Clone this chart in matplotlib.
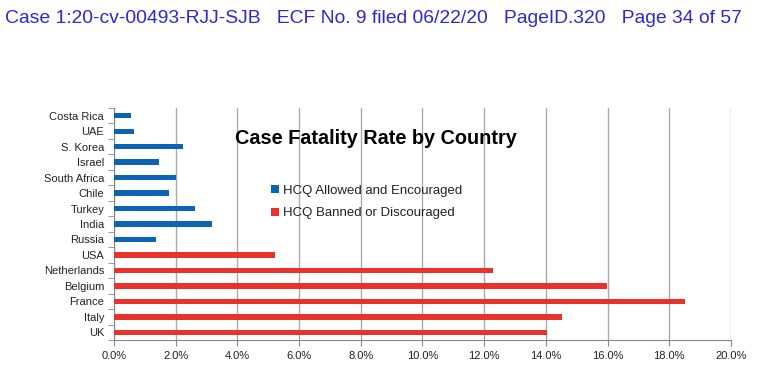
import matplotlib
matplotlib.use('Agg')
import numpy as np
from matplotlib import pyplot as plt
from matplotlib.ticker import FuncFormatter, FixedLocator

plt.rcParams['font.family'] = ['Liberation Sans', 'DejaVu Sans']

# data (top to bottom as drawn)
countries = ['Costa Rica', 'UAE', 'S. Korea', 'Israel', 'South Africa', 'Chile',
             'Turkey', 'India', 'Russia', 'USA', 'Netherlands', 'Belgium',
             'France', 'Italy', 'UK']
cfr = [0.54, 0.65, 2.23, 1.45, 2.01, 1.79, 2.63, 3.19, 1.36,
       5.22, 12.27, 15.97, 18.51, 14.52, 14.04]
group = ['allowed'] * 9 + ['banned'] * 6

colors = {'allowed': '#0b63b5', 'banned': '#e8322b'}
labels = {'allowed': 'HCQ Allowed and Encouraged',
          'banned': 'HCQ Banned or Discouraged'}

fig = plt.figure(figsize=(7.79, 3.77), dpi=100)
fig.text(0.006, 0.952, 'Case 1:20-cv-00493-RJJ-SJB   ECF No. 9 filed 06/22/20   PageID.320   Page 34 of 57',
         color='#2a2ad0', fontsize=13.85, va='center', ha='left')

ax = fig.add_axes([0.1463, 0.0981, 0.7921, 0.6154])
y = np.arange(len(countries))
for g in ['allowed', 'banned']:
    idx = [i for i, k in enumerate(group) if k == g]
    ax.barh(y[idx], [cfr[i] for i in idx], height=0.35, color=colors[g],
            label=labels[g], zorder=3)

ax.set_xlim(0, 20)
ax.set_ylim(len(countries) - 0.5, -0.5)
ax.set_xticks(np.arange(0, 21, 2))
ax.xaxis.set_major_formatter(FuncFormatter(lambda v, p: '%.1f%%' % v))
ax.set_yticks(y)
ax.set_yticklabels(countries)
ax.yaxis.set_minor_locator(FixedLocator(np.arange(-0.5, len(countries), 1)))
ax.tick_params(axis='y', which='major', length=0, pad=7, labelsize=8, labelcolor='#222222')
ax.tick_params(axis='y', which='minor', length=4, color='#888888')
ax.tick_params(axis='x', which='major', length=4, color='#888888', labelsize=8,
               labelcolor='#222222', pad=4)
ax.grid(axis='x', color='#aaaaaa', linewidth=1, zorder=0)
for s in ['top', 'right']:
    ax.spines[s].set_visible(False)
for s in ['left', 'bottom']:
    ax.spines[s].set_color('#888888')

fig.text(0.483, 0.632, 'Case Fatality Rate by Country', fontsize=14.3, fontweight='bold',
         ha='center', va='center')
ax.legend(loc='upper left', bbox_to_anchor=(0.235, 0.72), frameon=False, fontsize=9.5,
          handlelength=0.6, handleheight=0.6, handletextpad=0.3, labelspacing=0.8,
          labelcolor='#222222')

fig.savefig('out.png', dpi=100)
